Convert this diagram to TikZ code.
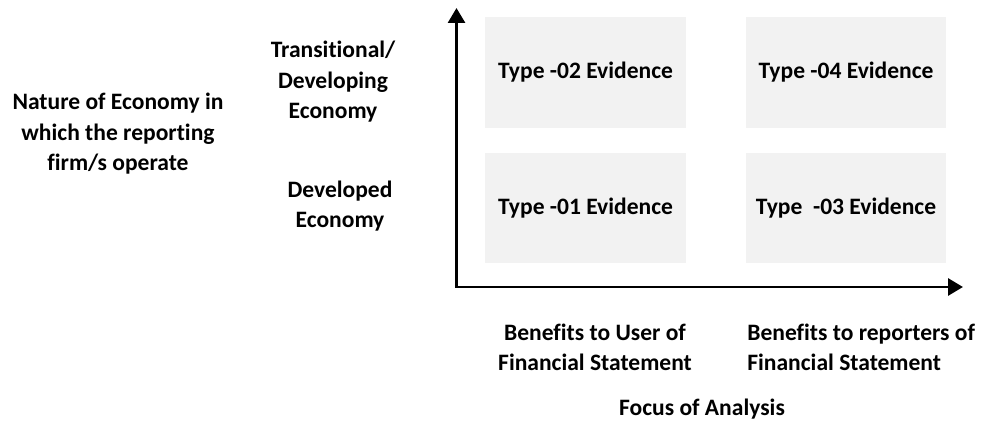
\documentclass[tikz,border=0pt]{standalone}
\usepackage{fontspec}
\setmainfont{Carlito}[Ligatures={NoCommon,TeX}]
\usetikzlibrary{arrows.meta}
\begin{document}
\begin{tikzpicture}[x=0.02cm,y=-0.02cm,
  font=\fontsize{13.4}{17.4}\selectfont\bfseries,
  evid/.style={rectangle,minimum width=4.02cm,minimum height=2.22cm,fill=gray!10,inner sep=0pt},
  lbl/.style={inner sep=0pt,align=center},
  axis/.style={line width=1.7pt,{Triangle[length=8.5pt,width=9.6pt]}-{Triangle[length=8.5pt,width=9.6pt]}}]
\useasboundingbox (0,0) rectangle (983,423);
% quadrants
\draw (585.5,72.5)node[evid] (t2){Type -02 Evidence};
\draw (846,72.5)node[evid] (t4){Type -04 Evidence};
\draw (585.5,208)node[evid] (t1){Type -01 Evidence};
\draw (846,208)node[evid] (t3){Type\ \ -03 Evidence};
% axes
\coordinate (o) at (456.5,287);
\coordinate (ytip) at (456.5,8);
\coordinate (xtip) at (963,287);
\draw[axis] (ytip) -- (o) -- (xtip);
% labels
\draw (118,134)node[lbl] (nature){Nature of Economy in\\which the reporting\\firm/s operate};
\draw (333,82)node[lbl] (trans){Transitional/\\Developing\\Economy};
\draw (340,206)node[lbl] (devd){Developed\\Economy};
\draw (595,347.5)node[lbl] (user){Benefits to User of\\Financial Statement};
\draw (747,347.5)node[lbl,anchor=west,align=left] (rep){Benefits to reporters of\\Financial Statement};
\draw (702,409)node[lbl] (focus){Focus of Analysis};
\end{tikzpicture}
\end{document}
